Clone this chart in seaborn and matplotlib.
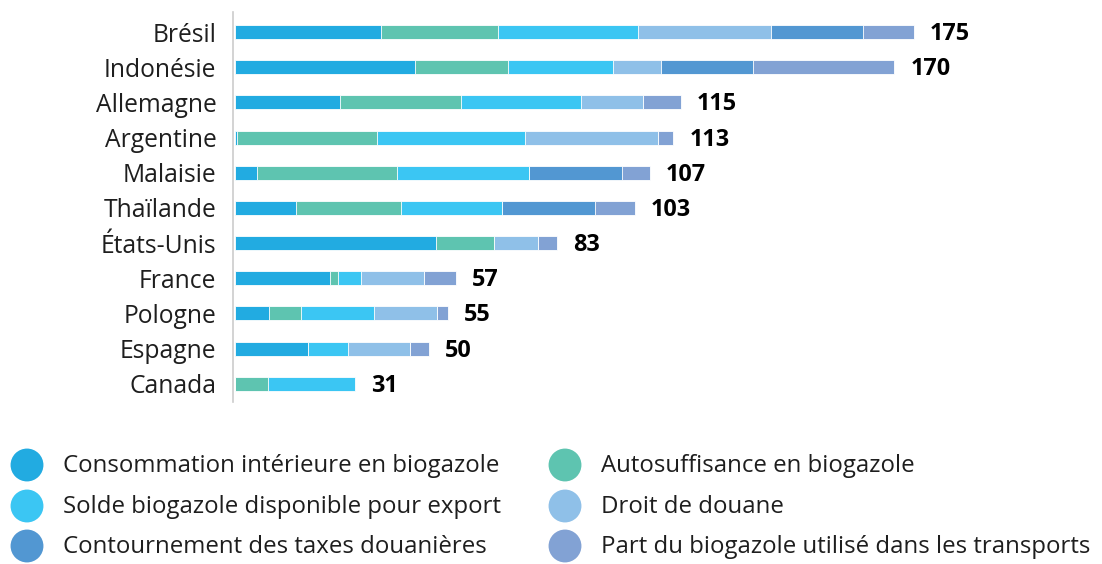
import numpy as np
import pandas as pd
import matplotlib
matplotlib.use("Agg")
import matplotlib.pyplot as plt
import seaborn as sns

# Data
pays = ["Brésil", "Indonésie", "Allemagne", "Argentine", "Malaisie", "Thaïlande",
        "États-Unis", "France", "Pologne", "Espagne", "Canada"]
totaux = [175, 170, 115, 113, 107, 103, 83, 57, 55, 50, 31]

conso = [37.6, 46.4, 27.0, 0.5, 5.7, 15.7, 51.8, 24.5, 8.8, 18.8, 0]
autosuff = [30.2, 24.0, 31.2, 36.1, 36.1, 27.1, 14.9, 2.1, 8.2, 0, 8.6]
solde = [36.1, 27.1, 30.9, 38.1, 34.0, 26.0, 0, 5.9, 18.8, 10.3, 22.4]
droit = [34.3, 12.4, 16.2, 34.3, 0, 0, 11.3, 16.3, 16.2, 16.0, 0]
contournement = [23.7, 23.7, 0, 0, 24.0, 24.0, 0, 0, 0, 0, 0]
part = [13.1, 36.4, 9.7, 4.0, 7.2, 10.2, 5.0, 8.2, 3.0, 4.9, 0]

series = ["Consommation intérieure en biogazole", "Autosuffisance en biogazole",
          "Solde biogazole disponible pour export", "Droit de douane",
          "Contournement des taxes douanières", "Part du biogazole utilisé dans les transports"]
couleurs = ["#22abe1", "#5ec4b0", "#3bc6f3", "#8fc0e8", "#5297d2", "#82a2d4"]

df = pd.DataFrame({"pays": pays, series[0]: conso, series[1]: autosuff, series[2]: solde,
                   series[3]: droit, series[4]: contournement, series[5]: part})
cum = df[series].cumsum(axis=1)

sns.set_theme(style="white")
plt.rcParams["font.family"] = ["Open Sans", "DejaVu Sans"]
texte = "#1e1e1e"

fig = plt.figure(figsize=(11.02, 5.64), dpi=100)
ax = fig.add_axes([233 / 1102, 1 - 402 / 564, (1000 - 233) / 1102, 390 / 564])

# stacked bars: overlay cumulative sums from the last segment to the first
for s, c in reversed(list(zip(series, couleurs))):
    sns.barplot(x=cum[s], y=df["pays"], color=c, orient="h", width=0.4,
                edgecolor="white", linewidth=0.6, ax=ax, saturation=1)

for i, t in enumerate(totaux):
    ax.text(t + 4.1, i + 0.06, str(t), va="center", ha="left", fontsize=16.8,
            fontweight="bold", color="black")

ax.set_xlim(-0.5, 197.2)
ax.set_ylim(10.52, -0.57)
ax.set_xlabel("")
ax.set_ylabel("")
ax.set_xticks([])
for side in ["top", "right", "bottom"]:
    ax.spines[side].set_visible(False)
ax.spines["left"].set_color("#cccccc")
ax.spines["left"].set_linewidth(1.2)
ax.tick_params(axis="y", length=0, pad=12, labelsize=17.7, labelcolor=texte)

# legend drawn by hand, two columns, row-wise
leg = fig.add_axes([0, 0, 1, 1], facecolor="none")
leg.set_xlim(0, 1102)
leg.set_ylim(564, 0)
leg.axis("off")
cols_x = [27, 565]
rows_y = [465, 506, 546]
for k, (s, c) in enumerate(zip(series, couleurs)):
    r, col = divmod(k, 2)
    leg.scatter(cols_x[col], rows_y[r], s=560, color=c, edgecolor="none")
    leg.text(cols_x[col] + 36, rows_y[r] + 1, s, va="center", ha="left",
             fontsize=17.3, color=texte)

fig.savefig("out.png", dpi=100)
